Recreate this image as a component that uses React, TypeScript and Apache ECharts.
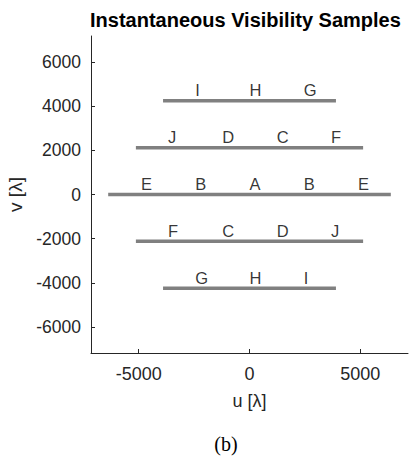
import React, { useEffect, useRef } from "react";
import * as echarts from "echarts";

// Horizontal u-tracks of the hexagonal array (v in wavelengths)
const trackV = [4244, 2122, 0, -2122, -4244];
const trackUMin = [-3900, -5125, -6375, -5125, -3900];
const trackUMax = [3900, 5125, 6375, 5125, 3900];

// Baseline letters placed along the tracks
const sampleLetters = [
  "I", "H", "G",
  "J", "D", "C", "F",
  "E", "B", "A", "B", "E",
  "F", "C", "D", "J",
  "G", "H", "I",
];
const sampleU = [
  -2450, 0, 2450,
  -3675, -1225, 1225, 3675,
  -4900, -2450, 0, 2450, 4900,
  -3675, -1225, 1225, 3675,
  -2450, 0, 2450,
];
const sampleV = [
  4244, 4244, 4244,
  2122, 2122, 2122, 2122,
  0, 0, 0, 0, 0,
  -2122, -2122, -2122, -2122,
  -4244, -4244, -4244,
];

const xTicks = [-5000, 0, 5000];
const yTicks = [-6000, -4000, -2000, 0, 2000, 4000, 6000];

const titleText = "Instantaneous Visibility Samples";
const xName = "u [\u03bb]";
const yName = "v [\u03bb]";
const caption = "(b)";

const SANS = "'Liberation Sans', Arial, Helvetica, sans-serif";
const AXIS_COLOR = "#262626";

export default function App() {
  const ref = useRef<HTMLDivElement>(null);

  useEffect(() => {
    if (!ref.current) return;
    const chart = echarts.init(ref.current, null, { renderer: "svg" });

    const trackSeries = trackV.map((v, i) => ({
      type: "line",
      data: [
        [trackUMin[i], v],
        [trackUMax[i], v],
      ],
      symbol: "none",
      silent: true,
      lineStyle: { color: "#808080", width: 3.5, cap: "butt" },
      z: 2,
    }));

    const letterSeries = {
      type: "scatter",
      data: sampleU.map((u, i) => [u, sampleV[i], sampleLetters[i]]),
      symbolSize: 0,
      silent: true,
      z: 3,
      label: {
        show: true,
        position: [0, -2],
        align: "left",
        verticalAlign: "bottom",
        formatter: (p: any) => p.data[2],
        color: "#000",
        fontFamily: SANS,
        fontSize: 16.5,
      },
    };

    const axisCommon = {
      type: "value",
      splitLine: { show: false },
      axisLine: { show: true, onZero: false, lineStyle: { color: AXIS_COLOR, width: 1 } },
      nameLocation: "middle",
      nameTextStyle: { color: AXIS_COLOR, fontFamily: SANS, fontSize: 18 },
    };

    const plain = (v: number) => String(v);

    chart.setOption({
      animation: false,
      backgroundColor: "#ffffff",
      grid: {
        left: 91,
        right: 2,
        top: 36,
        bottom: 105,
        containLabel: false,
        outerBoundsMode: "none",
      },
      xAxis: {
        ...axisCommon,
        min: -7150,
        max: 7150,
        name: xName,
        nameGap: 39,
        axisTick: {
          show: true,
          inside: true,
          length: 4,
          customValues: xTicks,
          lineStyle: { color: AXIS_COLOR },
        },
        axisLabel: {
          customValues: xTicks,
          formatter: plain,
          margin: 12,
          color: AXIS_COLOR,
          fontFamily: SANS,
          fontSize: 18,
        },
      },
      yAxis: {
        ...axisCommon,
        min: -7180,
        max: 7180,
        name: yName,
        nameGap: 58,
        nameRotate: 90,
        nameTextStyle: { color: AXIS_COLOR, fontFamily: SANS, fontSize: 19 },
        axisTick: {
          show: true,
          inside: true,
          length: 4,
          customValues: yTicks,
          lineStyle: { color: AXIS_COLOR },
        },
        axisLabel: {
          customValues: yTicks,
          formatter: plain,
          margin: 10,
          color: AXIS_COLOR,
          fontFamily: SANS,
          fontSize: 17.5,
        },
      },
      graphic: [
        {
          type: "text",
          left: 245 - 155,
          top: 10,
          style: {
            text: titleText,
            fill: "#000",
            font: `bold 20px ${SANS}`,
          },
        },
        {
          type: "text",
          x: 226,
          y: 444,
          style: {
            text: caption,
            fill: "#000",
            font: "20px 'Liberation Serif', 'Times New Roman', serif",
            textAlign: "center",
            textVerticalAlign: "middle",
          },
        },
      ],
      series: [...trackSeries, letterSeries],
    });

    return () => chart.dispose();
  }, []);

  return (
    <div
      ref={ref}
      style={{ position: "fixed", left: 0, top: 0, width: 410, height: 458 }}
    />
  );
}
